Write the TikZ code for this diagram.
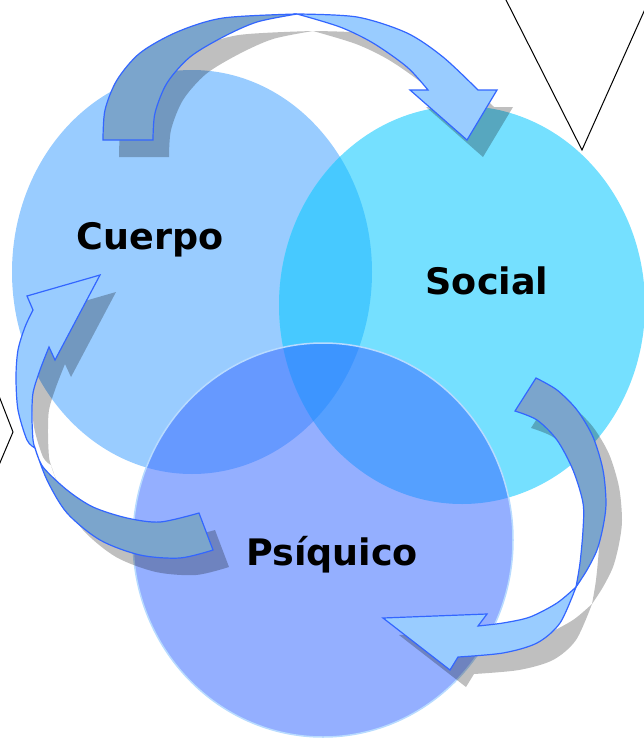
\documentclass[tikz,border=0pt]{standalone}
\usepackage{fontspec}
\setmainfont{DejaVu Sans}
\usepackage{tikz}

\definecolor{cuerpofill}{HTML}{99CCFF}
\definecolor{socialfill}{HTML}{75E0FF}
\definecolor{psiquicofill}{HTML}{94AFFF}
\definecolor{cuerposocial}{HTML}{47C9FF}
\definecolor{cuerpopsiquico}{HTML}{6699FF}
\definecolor{socialpsiquico}{HTML}{55A0FF}
\definecolor{tripleoverlap}{HTML}{3D95FF}
\definecolor{arrowback}{HTML}{7BA5CC}
\definecolor{arrowfront}{HTML}{99CCFF}
\definecolor{arrowline}{HTML}{3366FF}

% circles
\def\cuerpocirc{(192,272) ellipse [x radius=180, y radius=202]}
\def\socialcirc{(462,305) ellipse [x radius=183, y radius=199]}
\def\psiquicocirc{(323,540) ellipse [x radius=190, y radius=197]}

% arrows, back and front of each ribbon
\def\toparrowback{plot[smooth] coordinates {(103,140) (105,110) (117,80) (140,53) (177,32) (223,18) (297,14)} -- plot[smooth] coordinates {(297,14) (257,22) (223,37) (190,57) (167,83) (155,113) (153,140)} -- cycle}
\def\toparrowfront{plot[smooth] coordinates {(297,14) (357,17) (407,33) (443,57) (478,90)} -- (497,90) -- (467,140) -- (410,90) -- plot[smooth] coordinates {(428,90) (407,67) (373,43) (340,27) (297,14)} -- cycle}
\def\rightarrowback{plot[smooth] coordinates {(536,378) (557,390) (577,410) (593,437) (603,470) (606,503) (603,527) (597,550) (587,570) (576,587)} -- plot[smooth] coordinates {(576,587) (580,563) (583,530) (583,503) (573,470) (557,440) (537,420) (515,411)} -- cycle}
\def\rightarrowfront{plot[smooth] coordinates {(576,587) (557,603) (530,617) (503,623) (478,626)} -- (487,614) -- (383,618) -- (450,670) -- plot[smooth] coordinates {(458,657) (503,653) (537,643) (560,623) (576,587)} -- cycle}
\def\leftarrowfront{(100,275) -- (27,296) -- plot[smooth] coordinates {(33,310) (25,327) (18,350) (16,377) (18,410) (27,440) (35,448)} -- plot[smooth] coordinates {(35,448) (33,440) (32,417) (33,393) (40,370) (49,347)} -- (55,360) -- cycle}
\def\leftarrowback{plot[smooth] coordinates {(35,448) (43,467) (67,490) (93,507) (127,518) (160,522) (199,513)} -- plot[smooth] coordinates {(213,550) (180,558) (140,555) (100,540) (67,513) (47,480) (35,448)} -- cycle}

\begin{document}
\begin{tikzpicture}[x=1pt,y=-1pt,
    venntext/.style={font=\bfseries\fontsize{36.5}{40}\selectfont, anchor=base, inner sep=0pt},
    ribbonback/.style={fill=arrowback, draw=arrowline, line width=1.2pt},
    ribbonfront/.style={fill=arrowfront, draw=arrowline, line width=1.2pt},
    dropshadow/.style={fill=black, fill opacity=0.25, shift={(16,17)}}]
  \useasboundingbox (0,0) rectangle (644,739);
  \clip (0,0) rectangle (644,739);

  % lines at the edges
  \draw[line width=1pt] (505,-2) -- (582,150) -- (650,-2);
  \draw[line width=1pt] (-1,396) -- (13,432) -- (-1,465);

  % Circles
  \fill[cuerpofill] \cuerpocirc;
  \fill[socialfill] \socialcirc;
  \fill[psiquicofill] \psiquicocirc;
  \begin{scope}
    \clip \cuerpocirc;
    \fill[cuerposocial] \socialcirc;
    \fill[cuerpopsiquico] \psiquicocirc;
  \end{scope}
  \begin{scope}
    \clip \socialcirc;
    \fill[socialpsiquico] \psiquicocirc;
  \end{scope}
  \begin{scope}
    \clip \cuerpocirc;
    \clip \socialcirc;
    \fill[tripleoverlap] \psiquicocirc;
  \end{scope}
  \draw[color=cuerpofill!70!white, line width=1.5pt] \psiquicocirc;

  % Shadows
  \fill[dropshadow] \toparrowback;
  \fill[dropshadow] \toparrowfront;
  \fill[dropshadow] \rightarrowback;
  \fill[dropshadow] \rightarrowfront;
  \fill[dropshadow] \leftarrowback;
  \fill[dropshadow] \leftarrowfront;

  % Arrows
  \path[ribbonback] \toparrowback;
  \path[ribbonfront] \toparrowfront;
  \path[ribbonback] \rightarrowback;
  \path[ribbonfront] \rightarrowfront;
  \path[ribbonback] \leftarrowback;
  \path[ribbonfront] \leftarrowfront;

  % Labels
  \node (cuerpo) [venntext] at (150,249) {Cuerpo};
  \node (social) [venntext] at (487,294) {Social};
  \node (psiquico) [venntext] at (332,565) {Psíquico};
\end{tikzpicture}
\end{document}
